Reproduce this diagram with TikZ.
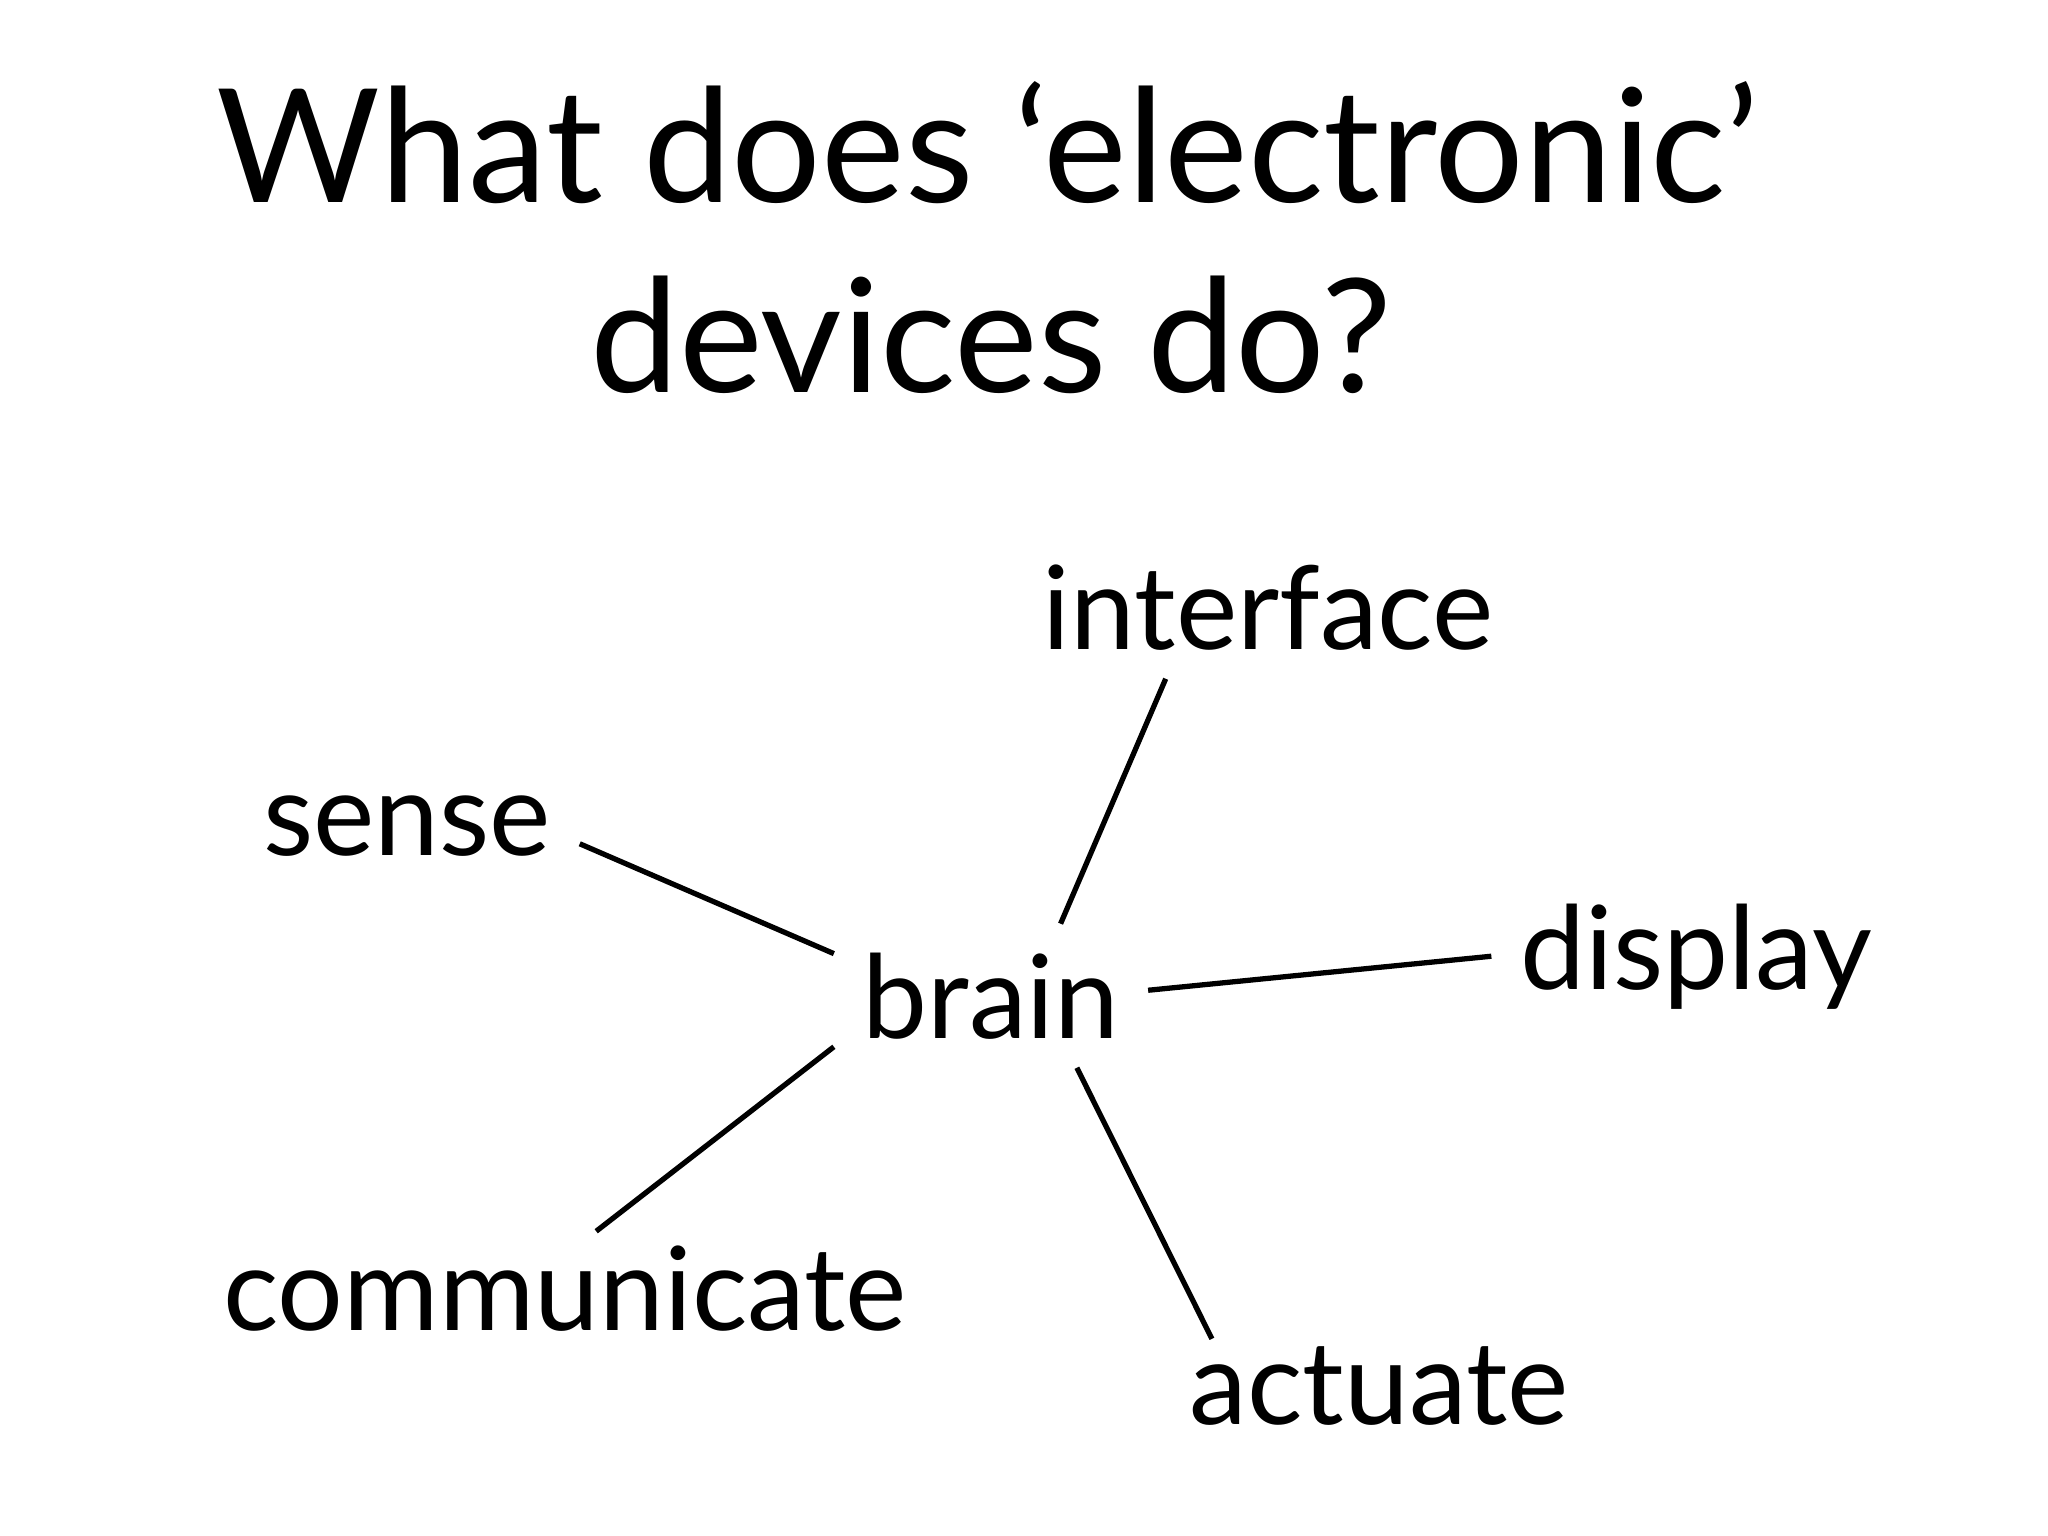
\documentclass[tikz,border=0pt]{standalone}
\usepackage{fontspec}
\setmainfont{Lato}
\tikzset{
    title/.style={inner sep=0pt, anchor=base, font=\fontsize{45}{54}\selectfont},
    word/.style={inner sep=8pt, anchor=base, font=\fontsize{33}{40}\selectfont},
    link/.style={line width=1.5pt}
}
\begin{document}
\begin{tikzpicture}[x=0.01cm, y=-0.01cm]
    \useasboundingbox (0,0) rectangle (2048,1536);

    % Title
    \node[title] (title1) at (988, 202) {What does ‘electronic’};
    \node[title] (title2) at (991, 392) {devices do?};

    % Words round the brain
    \node[word] (brain) at (991, 1038) {brain};
    \node[word] (sense) at (407, 855) {sense};
    \node[word] (interface) at (1268, 649) {interface};
    \node[word] (display) at (1696, 989) {display};
    \node[word] (communicate) at (565, 1330) {communicate};
    \node[word] (actuate) at (1379, 1424) {actuate};

    % Links
    \draw[link] (sense.-6) -- (brain.165);
    \draw[link] (interface.-145) -- (brain.46);
    \draw[link] (display.180) -- (brain.2);
    \draw[link, shorten <=-0.24cm] (communicate.55) -- (brain.-162);
    \draw[link, shorten <=-0.24cm] (actuate.159) -- (brain.-40);

\end{tikzpicture}
\end{document}
